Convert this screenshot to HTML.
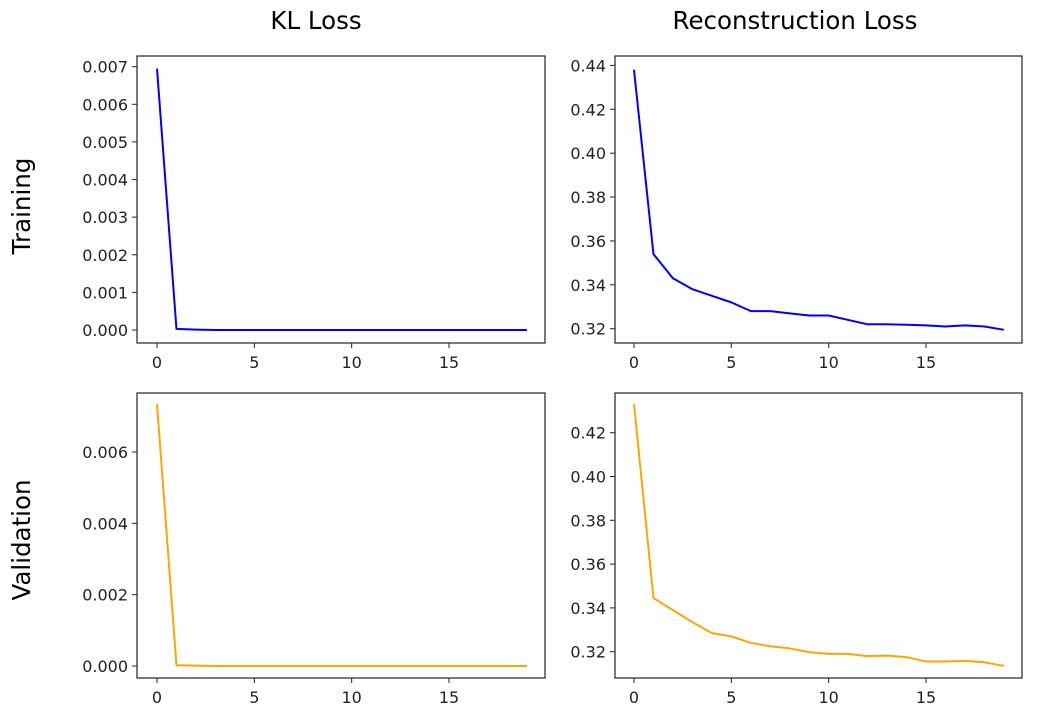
<!DOCTYPE html>
<html><head><meta charset="utf-8"><style>
body{margin:0;background:#fff;}
svg{display:block;font-family:"DejaVu Sans","Liberation Sans",sans-serif;}
</style></head><body>
<svg id="fig" width="1037" height="716" viewBox="0 0 1037 716">
<text x="316" y="29" font-size="24.5" text-anchor="middle" fill="#000">KL Loss</text>
<text x="795" y="29" font-size="24.5" text-anchor="middle" fill="#000">Reconstruction Loss</text>
<text transform="translate(30,206) rotate(-90)" font-size="24.5" text-anchor="middle" fill="#000">Training</text>
<text transform="translate(30,540) rotate(-90)" font-size="24.5" text-anchor="middle" fill="#000">Validation</text>
</svg>
<script>
const epochs = Array.from({length:20},(_,i)=>i);
const klTrain = [0.00695,0.00003,0.00001,0,0,0,0,0,0,0,0,0,0,0,0,0,0,0,0,0];
const klVal = [0.00735,0.00002,0.00001,0,0,0,0,0,0,0,0,0,0,0,0,0,0,0,0,0];
const recTrain = [0.438,0.354,0.343,0.338,0.335,0.332,0.328,0.328,0.327,0.326,0.326,0.324,0.322,0.322,0.3218,0.3215,0.321,0.3215,0.321,0.3195];
const recVal = [0.433,0.3445,0.339,0.3335,0.3285,0.327,0.324,0.3225,0.3215,0.3198,0.319,0.319,0.318,0.3182,0.3175,0.3155,0.3155,0.3158,0.3152,0.3135];
const xTicks = [0,5,10,15];
const klTrainTicks = ["0.000","0.001","0.002","0.003","0.004","0.005","0.006","0.007"];
const klValTicks = ["0.000","0.002","0.004","0.006"];
const recTrainTicks = ["0.32","0.34","0.36","0.38","0.40","0.42","0.44"];
const recValTicks = ["0.32","0.34","0.36","0.38","0.40","0.42"];

const NS="http://www.w3.org/2000/svg";
const svg=document.getElementById('fig');
function mk(tag,attrs){const e=document.createElementNS(NS,tag);for(const k in attrs)e.setAttribute(k,attrs[k]);svg.appendChild(e);return e;}

function panel(name,box,xr,yr,ticks,data,color){
  const [L,T,R,B]=box;
  const xs=v=>xr[0]+(v-xr[1])*xr[2];
  const ys=v=>yr[0]-(v-yr[1])*yr[2];
  const fr=mk('rect',{x:L,y:T,width:R-L,height:B-T,fill:'none',stroke:'#222','stroke-width':1.2});
  
  
  xTicks.forEach(t=>{
    const x=xs(t);
    const l=mk('line',{x1:x,x2:x,y1:B,y2:B+5,stroke:'#222'});
    
    
    const tx=mk('text',{x:x,y:B+25,'font-size':16,'text-anchor':'middle',fill:'#222'});
    tx.textContent=t;
    
    
  });
  ticks.forEach(t=>{
    const y=ys(parseFloat(t));
    const l=mk('line',{x1:L-5,x2:L,y1:y,y2:y,stroke:'#222'});
    
    
    const tx=mk('text',{x:L-9,y:y+6,'font-size':16,'text-anchor':'end',fill:'#222'});
    tx.textContent=t;
    
    
  });
  const pts=data.map((v,i)=>xs(epochs[i]).toFixed(2)+','+ys(v).toFixed(2)).join(' ');
  const pl=mk('polyline',{points:pts,fill:'none',stroke:color,'stroke-width':2,'stroke-linejoin':'round'});
  
  
}
const xLeft=[157,0,292/15], xRight=[634,0,292/15];
panel('kl-training',[137,56,545,343],xLeft,[330,0,263.3/0.007],klTrainTicks,klTrain,'#0000ff');
panel('reconstruction-training',[615,56,1022,343],xRight,[328.7,0.32,263.3/0.12],recTrainTicks,recTrain,'#0000ff');
panel('kl-validation',[137,393,545,678],xLeft,[666,0,214/0.006],klValTicks,klVal,'#ffa500');
panel('reconstruction-validation',[615,393,1022,678],xRight,[651.7,0.32,219/0.1],recValTicks,recVal,'#ffa500');
</script>
</body></html>
